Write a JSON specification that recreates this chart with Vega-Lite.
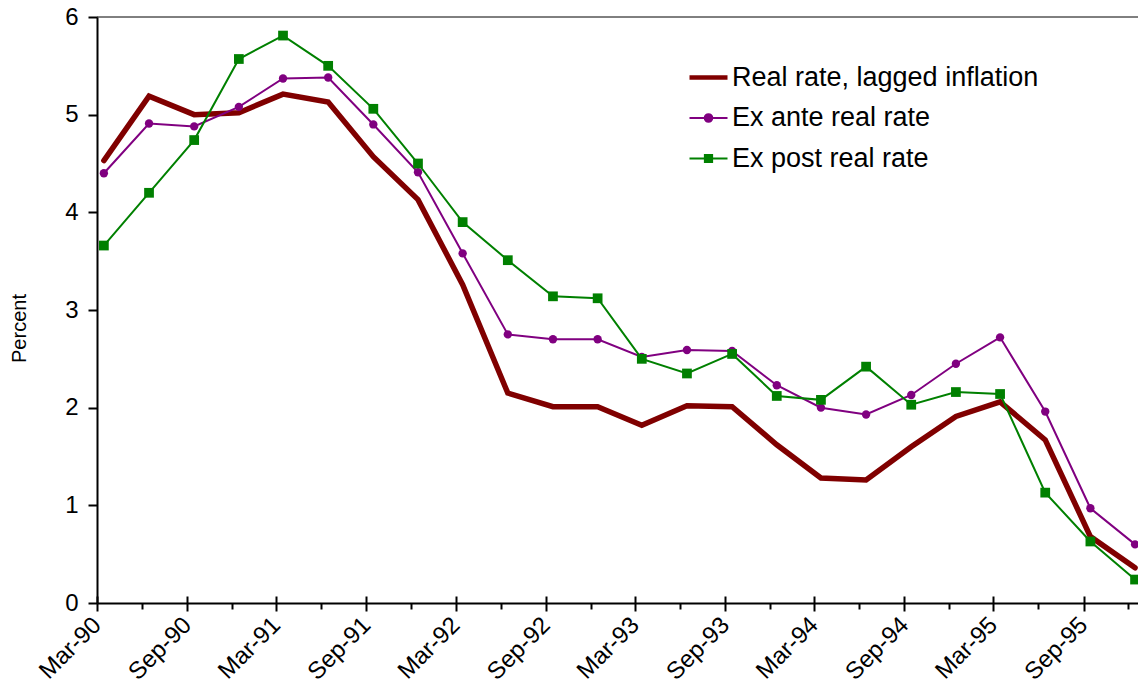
{
  "$schema": "https://vega.github.io/schema/vega-lite/v6.json",
  "width": 1041,
  "height": 586,
  "autosize": {"type": "none"},
  "padding": {"left": 97, "top": 17, "right": 0, "bottom": 90},
  "background": "white",
  "data": {"values": [
    {"date": "1990-03-15", "series": "Real rate, lagged inflation", "value": 4.53},
    {"date": "1990-06-15", "series": "Real rate, lagged inflation", "value": 5.19},
    {"date": "1990-09-15", "series": "Real rate, lagged inflation", "value": 5.00},
    {"date": "1990-12-15", "series": "Real rate, lagged inflation", "value": 5.02},
    {"date": "1991-03-15", "series": "Real rate, lagged inflation", "value": 5.21},
    {"date": "1991-06-15", "series": "Real rate, lagged inflation", "value": 5.13},
    {"date": "1991-09-15", "series": "Real rate, lagged inflation", "value": 4.57},
    {"date": "1991-12-15", "series": "Real rate, lagged inflation", "value": 4.13},
    {"date": "1992-03-15", "series": "Real rate, lagged inflation", "value": 3.26},
    {"date": "1992-06-15", "series": "Real rate, lagged inflation", "value": 2.15},
    {"date": "1992-09-15", "series": "Real rate, lagged inflation", "value": 2.01},
    {"date": "1992-12-15", "series": "Real rate, lagged inflation", "value": 2.01},
    {"date": "1993-03-15", "series": "Real rate, lagged inflation", "value": 1.82},
    {"date": "1993-06-15", "series": "Real rate, lagged inflation", "value": 2.02},
    {"date": "1993-09-15", "series": "Real rate, lagged inflation", "value": 2.01},
    {"date": "1993-12-15", "series": "Real rate, lagged inflation", "value": 1.62},
    {"date": "1994-03-15", "series": "Real rate, lagged inflation", "value": 1.28},
    {"date": "1994-06-15", "series": "Real rate, lagged inflation", "value": 1.26},
    {"date": "1994-09-15", "series": "Real rate, lagged inflation", "value": 1.60},
    {"date": "1994-12-15", "series": "Real rate, lagged inflation", "value": 1.91},
    {"date": "1995-03-15", "series": "Real rate, lagged inflation", "value": 2.06},
    {"date": "1995-06-15", "series": "Real rate, lagged inflation", "value": 1.67},
    {"date": "1995-09-15", "series": "Real rate, lagged inflation", "value": 0.68},
    {"date": "1995-12-15", "series": "Real rate, lagged inflation", "value": 0.36},
    {"date": "1990-03-15", "series": "Ex ante real rate", "value": 4.40},
    {"date": "1990-06-15", "series": "Ex ante real rate", "value": 4.91},
    {"date": "1990-09-15", "series": "Ex ante real rate", "value": 4.88},
    {"date": "1990-12-15", "series": "Ex ante real rate", "value": 5.08},
    {"date": "1991-03-15", "series": "Ex ante real rate", "value": 5.37},
    {"date": "1991-06-15", "series": "Ex ante real rate", "value": 5.38},
    {"date": "1991-09-15", "series": "Ex ante real rate", "value": 4.90},
    {"date": "1991-12-15", "series": "Ex ante real rate", "value": 4.41},
    {"date": "1992-03-15", "series": "Ex ante real rate", "value": 3.58},
    {"date": "1992-06-15", "series": "Ex ante real rate", "value": 2.75},
    {"date": "1992-09-15", "series": "Ex ante real rate", "value": 2.70},
    {"date": "1992-12-15", "series": "Ex ante real rate", "value": 2.70},
    {"date": "1993-03-15", "series": "Ex ante real rate", "value": 2.52},
    {"date": "1993-06-15", "series": "Ex ante real rate", "value": 2.59},
    {"date": "1993-09-15", "series": "Ex ante real rate", "value": 2.58},
    {"date": "1993-12-15", "series": "Ex ante real rate", "value": 2.23},
    {"date": "1994-03-15", "series": "Ex ante real rate", "value": 2.00},
    {"date": "1994-06-15", "series": "Ex ante real rate", "value": 1.93},
    {"date": "1994-09-15", "series": "Ex ante real rate", "value": 2.13},
    {"date": "1994-12-15", "series": "Ex ante real rate", "value": 2.45},
    {"date": "1995-03-15", "series": "Ex ante real rate", "value": 2.72},
    {"date": "1995-06-15", "series": "Ex ante real rate", "value": 1.96},
    {"date": "1995-09-15", "series": "Ex ante real rate", "value": 0.97},
    {"date": "1995-12-15", "series": "Ex ante real rate", "value": 0.60},
    {"date": "1990-03-15", "series": "Ex post real rate", "value": 3.66},
    {"date": "1990-06-15", "series": "Ex post real rate", "value": 4.20},
    {"date": "1990-09-15", "series": "Ex post real rate", "value": 4.74},
    {"date": "1990-12-15", "series": "Ex post real rate", "value": 5.57},
    {"date": "1991-03-15", "series": "Ex post real rate", "value": 5.81},
    {"date": "1991-06-15", "series": "Ex post real rate", "value": 5.50},
    {"date": "1991-09-15", "series": "Ex post real rate", "value": 5.06},
    {"date": "1991-12-15", "series": "Ex post real rate", "value": 4.50},
    {"date": "1992-03-15", "series": "Ex post real rate", "value": 3.90},
    {"date": "1992-06-15", "series": "Ex post real rate", "value": 3.51},
    {"date": "1992-09-15", "series": "Ex post real rate", "value": 3.14},
    {"date": "1992-12-15", "series": "Ex post real rate", "value": 3.12},
    {"date": "1993-03-15", "series": "Ex post real rate", "value": 2.50},
    {"date": "1993-06-15", "series": "Ex post real rate", "value": 2.35},
    {"date": "1993-09-15", "series": "Ex post real rate", "value": 2.55},
    {"date": "1993-12-15", "series": "Ex post real rate", "value": 2.12},
    {"date": "1994-03-15", "series": "Ex post real rate", "value": 2.08},
    {"date": "1994-06-15", "series": "Ex post real rate", "value": 2.42},
    {"date": "1994-09-15", "series": "Ex post real rate", "value": 2.03},
    {"date": "1994-12-15", "series": "Ex post real rate", "value": 2.16},
    {"date": "1995-03-15", "series": "Ex post real rate", "value": 2.14},
    {"date": "1995-06-15", "series": "Ex post real rate", "value": 1.13},
    {"date": "1995-09-15", "series": "Ex post real rate", "value": 0.63},
    {"date": "1995-12-15", "series": "Ex post real rate", "value": 0.24}
  ]},
  "encoding": {
    "y": {
      "field": "value",
      "type": "quantitative",
      "scale": {"domain": [0, 6], "nice": false},
      "axis": {
        "title": "Percent",
        "values": [0, 1, 2, 3, 4, 5, 6],
        "grid": false,
        "tickSize": 9,
        "labelPadding": 10,
        "labelFontSize": 24,
        "titleFontSize": 20,
        "titleX": -72,
        "titleY": 311,
        "titleAngle": -90,
        "titleAlign": "center",
        "titleBaseline": "alphabetic"
      }
    },
    "color": {
      "field": "series",
      "type": "nominal",
      "scale": {
        "domain": ["Real rate, lagged inflation", "Ex ante real rate", "Ex post real rate"],
        "range": ["#800000", "#800080", "#008000"]
      },
      "legend": {
        "title": null,
        "orient": "none",
        "legendX": 598,
        "legendY": 47,
        "padding": 0,
        "labelFontSize": 27,
        "labelColor": "black",
        "labelLimit": 700,
        "symbolSize": 1444,
        "rowPadding": 12.5,
        "labelOffset": 10,
        "encode": {
          "symbols": {
            "update": {
              "shape": {"signal": "datum.value === 'Ex ante real rate' ? 'M-1,0L1,0M0.2,0A0.2,0.2,0,1,1,-0.2,0A0.2,0.2,0,1,1,0.2,0Z' : (datum.value === 'Ex post real rate' ? 'M-1,0L1,0M-0.19,-0.19L0.19,-0.19L0.19,0.19L-0.19,0.19Z' : 'M-1,0L1,0')"},
              "fill": {"signal": "datum.value === 'Ex ante real rate' ? '#800080' : (datum.value === 'Ex post real rate' ? '#008000' : '#800000')"},
              "stroke": {"signal": "datum.value === 'Ex ante real rate' ? '#800080' : (datum.value === 'Ex post real rate' ? '#008000' : '#800000')"},
              "strokeWidth": {"signal": "datum.value === 'Real rate, lagged inflation' ? 4.5 : 2"},
              "fillOpacity": {"value": 1},
              "strokeOpacity": {"value": 1},
              "opacity": {"value": 1},
              "size": {"value": 1444}
            }
          }
        }
      }
    }
  },
  "layer": [
    {
      "data": {"values": [{"top": 6}]},
      "mark": {"type": "rule", "strokeWidth": 1},
      "encoding": {
        "y": {"field": "top", "type": "quantitative", "axis": {"title": "Percent", "values": [0, 1, 2, 3, 4, 5, 6], "grid": false, "tickSize": 9, "labelPadding": 10, "labelFontSize": 24, "titleFontSize": 20, "titleX": -72, "titleY": 311, "titleAngle": -90, "titleAlign": "center", "titleBaseline": "alphabetic"}},
        "color": {"value": "black"}
      }
    },
    {
      "transform": [{"filter": "datum.series === 'Real rate, lagged inflation'"}],
      "mark": {"type": "line", "strokeWidth": 5.5, "strokeCap": "round"},
      "encoding": {
        "x": {
          "field": "date",
          "type": "temporal",
          "scale": {"type": "utc", "domain": [{"year": 1990, "month": 3, "date": 1, "utc": true}, {"year": 1995, "month": 12, "date": 21, "utc": true}]},
          "axis": {
            "orient": "bottom",
            "title": null,
            "grid": false,
            "values": [
              {"year": 1990, "month": 3, "date": 1, "utc": true}, {"year": 1990, "month": 9, "date": 1, "utc": true},
              {"year": 1991, "month": 3, "date": 1, "utc": true}, {"year": 1991, "month": 9, "date": 1, "utc": true},
              {"year": 1992, "month": 3, "date": 1, "utc": true}, {"year": 1992, "month": 9, "date": 1, "utc": true},
              {"year": 1993, "month": 3, "date": 1, "utc": true}, {"year": 1993, "month": 9, "date": 1, "utc": true},
              {"year": 1994, "month": 3, "date": 1, "utc": true}, {"year": 1994, "month": 9, "date": 1, "utc": true},
              {"year": 1995, "month": 3, "date": 1, "utc": true}, {"year": 1995, "month": 9, "date": 1, "utc": true}
            ],
            "labelExpr": "utcFormat(datum.value, '%b-%y')",
            "labelAngle": -45,
            "labelAlign": "right",
            "labelBaseline": "middle",
            "labelPadding": 10,
            "labelFontSize": 24,
            "labelOverlap": false,
            "labelFlush": false,
            "tickSize": 8
          }
        }
      }
    },
    {
      "transform": [{"filter": "datum.series !== 'Real rate, lagged inflation'"}],
      "mark": {"type": "line", "strokeWidth": 2},
      "encoding": {
        "x": {
          "field": "date",
          "type": "temporal",
          "scale": {"type": "utc", "domain": [{"year": 1990, "month": 3, "date": 1, "utc": true}, {"year": 1995, "month": 12, "date": 21, "utc": true}]},
          "axis": {
            "orient": "bottom",
            "title": null,
            "grid": false,
            "domain": false,
            "labels": false,
            "tickSize": 6,
            "values": [
              {"year": 1990, "month": 6, "date": 1, "utc": true}, {"year": 1990, "month": 12, "date": 1, "utc": true},
              {"year": 1991, "month": 6, "date": 1, "utc": true}, {"year": 1991, "month": 12, "date": 1, "utc": true},
              {"year": 1992, "month": 6, "date": 1, "utc": true}, {"year": 1992, "month": 12, "date": 1, "utc": true},
              {"year": 1993, "month": 6, "date": 1, "utc": true}, {"year": 1993, "month": 12, "date": 1, "utc": true},
              {"year": 1994, "month": 6, "date": 1, "utc": true}, {"year": 1994, "month": 12, "date": 1, "utc": true},
              {"year": 1995, "month": 6, "date": 1, "utc": true}, {"year": 1995, "month": 12, "date": 1, "utc": true}
            ]
          }
        }
      }
    },
    {
      "transform": [{"filter": "datum.series !== 'Real rate, lagged inflation'"}],
      "mark": {"type": "point", "filled": true, "opacity": 1, "strokeWidth": 0},
      "encoding": {
        "x": {
          "field": "date",
          "type": "temporal",
          "scale": {"type": "utc", "domain": [{"year": 1990, "month": 3, "date": 1, "utc": true}, {"year": 1995, "month": 12, "date": 21, "utc": true}]},
          "axis": {
            "orient": "bottom",
            "title": null,
            "grid": false,
            "domain": false,
            "labels": false,
            "tickSize": 7,
            "offset": -7,
            "values": [
              {"year": 1990, "month": 3, "date": 1, "utc": true}, {"year": 1990, "month": 9, "date": 1, "utc": true},
              {"year": 1991, "month": 3, "date": 1, "utc": true}, {"year": 1991, "month": 9, "date": 1, "utc": true},
              {"year": 1992, "month": 3, "date": 1, "utc": true}, {"year": 1992, "month": 9, "date": 1, "utc": true},
              {"year": 1993, "month": 3, "date": 1, "utc": true}, {"year": 1993, "month": 9, "date": 1, "utc": true},
              {"year": 1994, "month": 3, "date": 1, "utc": true}, {"year": 1994, "month": 9, "date": 1, "utc": true},
              {"year": 1995, "month": 3, "date": 1, "utc": true}, {"year": 1995, "month": 9, "date": 1, "utc": true}
            ]
          }
        },
        "shape": {
          "field": "series",
          "type": "nominal",
          "scale": {"domain": ["Ex ante real rate", "Ex post real rate"], "range": ["circle", "square"]},
          "legend": null
        },
        "size": {
          "field": "series",
          "type": "nominal",
          "scale": {"domain": ["Ex ante real rate", "Ex post real rate"], "range": [70, 95]},
          "legend": null
        }
      }
    }
  ],
  "resolve": {"axis": {"x": "independent"}},
  "config": {
    "font": "Liberation Sans",
    "view": {"stroke": null},
    "axis": {
      "domainColor": "black",
      "domainWidth": 2,
      "tickColor": "black",
      "tickWidth": 2,
      "labelColor": "black",
      "labelFontSize": 24,
      "labelFont": "Liberation Sans",
      "titleColor": "black",
      "titleFontSize": 20,
      "titleFont": "Liberation Sans",
      "titleFontWeight": "normal"
    },
    "legend": {"labelFont": "Liberation Sans"}
  }
}
